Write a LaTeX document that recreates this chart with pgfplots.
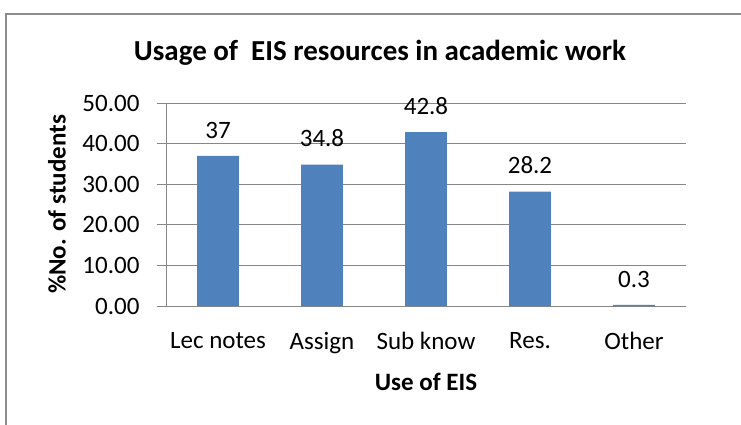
\documentclass[border=0pt]{standalone}
\usepackage{fontspec}
\setmainfont{Carlito}
\usepackage{pgfplots}
\pgfplotsset{compat=1.18}
\definecolor{barblue}{HTML}{4F81BD}
\definecolor{gridgray}{HTML}{868686}
\definecolor{framegray}{HTML}{8C8C8C}
\begin{document}
\begin{tikzpicture}[x=1pt,y=1pt]
\useasboundingbox (0,0) rectangle (741,-425);
\draw[color=framegray, line width=2pt] (6,-426) -- (6,-14) -- (742,-14);
\node[font=\fontsize{29}{34}\selectfont\bfseries] at (380,-53) {Usage of\ \ EIS resources in academic work};
\begin{axis}[
  at={(166pt,-306pt)}, anchor=south west,
  scale only axis, width=520pt, height=203pt,
  xmin=-0.5, xmax=4.5, ymin=0, ymax=50,
  axis x line*=bottom, axis y line*=left,
  axis line style={-, color=gridgray, line width=1pt},
  ytick={0,10,20,30,40,50},
  yticklabel style={/pgf/number format/.cd, fixed, fixed zerofill, precision=2, /tikz/.cd, xshift=-14pt},
  /pgf/number format/assume math mode=true,
  xtick={0,1,2,3,4},
  xticklabels={Lec notes,Assign,Sub know,Res.,Other},
  xticklabel style={yshift=-14pt},
  x tick style={draw=none},
  y tick style={color=gridgray, line width=1pt},
  tick align=outside, major tick length=9pt,
  ymajorgrids, grid style={color=gridgray, line width=1pt},
  tick label style={font=\fontsize{25}{30}\selectfont},
  label style={font=\fontsize{25}{30}\selectfont\bfseries},
  xlabel={Use of EIS},
  ylabel={\%No. of students},
  xlabel style={at={(0.5,0)}, anchor=center, yshift=-76pt},
  ylabel style={at={(0,0.5)}, anchor=center, rotate=0, yshift=109pt},
  ybar, bar width=0.4,
  nodes near coords,
  point meta=explicit symbolic,
  every node near coord/.append style={font=\fontsize{25}{30}\selectfont, color=black, anchor=south, yshift=14pt},
]
\addplot[fill=barblue, draw=none] coordinates {
  (0,37) [37]
  (1,34.8) [34.8]
  (2,42.8) [42.8]
  (3,28.2) [28.2]
  (4,0.3) [0.3]
};
\end{axis}
\end{tikzpicture}
\end{document}
